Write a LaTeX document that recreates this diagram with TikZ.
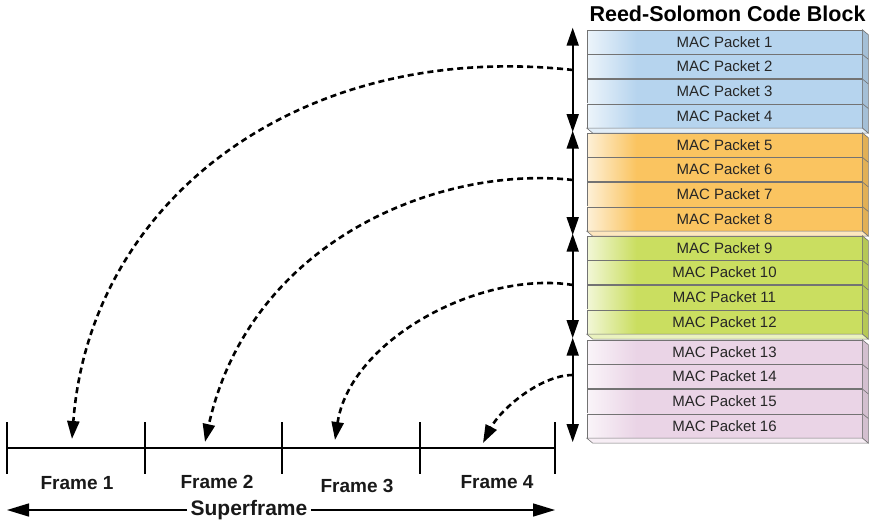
\documentclass[tikz,border=0pt]{standalone}
\usepackage{fontspec}
\setmainfont{Liberation Sans}
\usetikzlibrary{positioning,arrows.meta}
\definecolor{blueP}{RGB}{182,212,238}
\definecolor{orangeP}{RGB}{250,196,96}
\definecolor{greenP}{RGB}{202,222,96}
\definecolor{pinkP}{RGB}{234,212,230}
\pgfdeclarehorizontalshading{blueS}{100bp}{color(0bp)=(blueP!25!white); color(25bp)=(blueP!25!white); color(34bp)=(blueP); color(100bp)=(blueP)}
\pgfdeclarehorizontalshading{orangeS}{100bp}{color(0bp)=(orangeP!25!white); color(25bp)=(orangeP!25!white); color(34bp)=(orangeP); color(100bp)=(orangeP)}
\pgfdeclarehorizontalshading{greenS}{100bp}{color(0bp)=(greenP!25!white); color(25bp)=(greenP!25!white); color(34bp)=(greenP); color(100bp)=(greenP)}
\pgfdeclarehorizontalshading{pinkS}{100bp}{color(0bp)=(pinkP!25!white); color(25bp)=(pinkP!25!white); color(34bp)=(pinkP); color(100bp)=(pinkP)}

\begin{document}
\begin{tikzpicture}[
  x=1pt,y=-1pt,
  >={Triangle[length=18pt,width=12pt]},
  font=\fontsize{15}{17}\selectfont,
  pkt/.style     ={draw=black!55,line width=0.6pt,minimum width=275pt,
                   minimum height=24pt,inner sep=0pt,text=black!85},
  face/.style    ={draw=black!55,line width=0.6pt},
  span/.style    ={<->,line width=1.8pt},
  hop/.style     ={->,line width=2.6pt,dash pattern=on 6pt off 4pt},
  tick/.style    ={line width=1.4pt},
  lbl/.style     ={font=\fontsize{19}{22}\selectfont\bfseries,text=black!90},
  node distance  =0pt]

\useasboundingbox (0,0) rectangle (870,528);

% --- title ---
\node[font=\fontsize{21.5}{24}\selectfont\bfseries,anchor=east] (rs) at (869,14)
  {Reed-Solomon Code Block};

% --- code block: four groups of MAC packets ---
\node[pkt,shade,shading=blueS] (p1) at (724.5,42) {MAC Packet 1};
\node[pkt,shade,shading=blueS,below=of p1] (p2) {MAC Packet 2};
\node[pkt,shade,shading=blueS,below=of p2] (p3) {MAC Packet 3};
\node[pkt,shade,shading=blueS,below=of p3] (p4) {MAC Packet 4};

\node[pkt,shade,shading=orangeS] (p5) at (724.5,145) {MAC Packet 5};
\node[pkt,shade,shading=orangeS,below=of p5] (p6) {MAC Packet 6};
\node[pkt,shade,shading=orangeS,below=of p6] (p7) {MAC Packet 7};
\node[pkt,shade,shading=orangeS,below=of p7] (p8) {MAC Packet 8};

\node[pkt,shade,shading=greenS] (p9) at (724.5,248) {MAC Packet 9};
\node[pkt,shade,shading=greenS,below=of p9]  (p10) {MAC Packet 10};
\node[pkt,shade,shading=greenS,below=of p10] (p11) {MAC Packet 11};
\node[pkt,shade,shading=greenS,below=of p11] (p12) {MAC Packet 12};

\node[pkt,shade,shading=pinkS] (p13) at (724.5,352) {MAC Packet 13};
\node[pkt,shade,shading=pinkS,below=of p13] (p14) {MAC Packet 14};
\node[pkt,shade,shading=pinkS,below=of p14] (p15) {MAC Packet 15};
\node[pkt,shade,shading=pinkS,below=of p15] (p16) {MAC Packet 16};

% --- depth faces of each group ---
\foreach \top/\bot/\col in {p1/p4/blueP,p5/p8/orangeP,p9/p12/greenP,p13/p16/pinkP}{
  \filldraw[face,fill=\col!90!black] (\top.north east) -- ++(6,5)
    -- ([shift={(6,5)}]\bot.south east) -- (\bot.south east) -- cycle;
  \filldraw[face,fill=\col!40!white] (\bot.south west) -- ++(6,5)
    -- ([shift={(6,5)}]\bot.south east) -- (\bot.south east) -- cycle;
}
\draw[face] (p1.south east) -- ++(6,5) (p2.south east) -- ++(6,5) (p3.south east) -- ++(6,5);
\draw[face] (p5.south east) -- ++(6,5) (p6.south east) -- ++(6,5) (p7.south east) -- ++(6,5);
\draw[face] (p9.south east) -- ++(6,5) (p10.south east) -- ++(6,5) (p11.south east) -- ++(6,5);
\draw[face] (p13.south east) -- ++(6,5) (p14.south east) -- ++(6,5) (p15.south east) -- ++(6,5);

% --- group spans ---
\coordinate (a1t) at ([xshift=-14pt,yshift=2pt]p1.north west);
\coordinate (a1b) at ([xshift=-14pt,yshift=-4pt]p4.south west);
\coordinate (a2t) at ([xshift=-14pt,yshift=2pt]p5.north west);
\coordinate (a2b) at ([xshift=-14pt,yshift=-4pt]p8.south west);
\coordinate (a3t) at ([xshift=-14pt,yshift=2pt]p9.north west);
\coordinate (a3b) at ([xshift=-14pt,yshift=-4pt]p12.south west);
\coordinate (a4t) at ([xshift=-14pt,yshift=2pt]p13.north west);
\coordinate (a4b) at ([xshift=-14pt,yshift=-4pt]p16.south west);
\draw[span] (a1t) -- (a1b);
\draw[span] (a2t) -- (a2b);
\draw[span] (a3t) -- (a3b);
\draw[span] (a4t) -- (a4b);

% --- superframe timeline ---
\coordinate (t0) at (7,448);
\coordinate (t1) at (145,448);
\coordinate (t2) at (282,448);
\coordinate (t3) at (420,448);
\coordinate (t4) at (555,448);
\draw[tick] (t0) -- (t4);
\draw[tick] ([yshift=26pt]t0) -- ([yshift=-26pt]t0);
\draw[tick] ([yshift=26pt]t1) -- ([yshift=-26pt]t1);
\draw[tick] ([yshift=26pt]t2) -- ([yshift=-26pt]t2);
\draw[tick] ([yshift=26pt]t3) -- ([yshift=-26pt]t3);
\draw[tick] ([yshift=26pt]t4) -- ([yshift=-26pt]t4);

\node[lbl] (f1) at (77,483) {Frame 1};
\node[lbl] (f2) at (217,482) {Frame 2};
\node[lbl] (f3) at (357,486) {Frame 3};
\node[lbl] (f4) at (497,482) {Frame 4};

\node[lbl,font=\fontsize{21}{24}\selectfont\bfseries] (sf) at (249,510) {Superframe};
\coordinate (sfL) at (7,510);
\coordinate (sfR) at (555,510);
\draw[->,line width=1.5pt,>={Triangle[length=22pt,width=13pt]}] (sf.west) -- (sfL);
\draw[->,line width=1.5pt,>={Triangle[length=22pt,width=13pt]}] (sf.east) -- (sfR);

% --- packet groups mapped onto frames ---
\coordinate (s1) at (573,70);
\coordinate (s2) at (573,180);
\coordinate (s3) at (573,285);
\coordinate (s4) at (573,375);
\coordinate (e1) at (72,439);
\coordinate (e2) at (205,442);
\coordinate (e3) at (335,440);
\coordinate (e4) at (483,443);
\draw[hop] (s1) .. controls (300,40) and (90,200) .. (e1);
\draw[hop] (s2) .. controls (440,165) and (250,240) .. (e2);
\draw[hop] (s3) .. controls (480,270) and (350,340) .. (e3);
\draw[hop] (s4) .. controls (540,375) and (500,410) .. (e4);

\end{tikzpicture}
\end{document}
